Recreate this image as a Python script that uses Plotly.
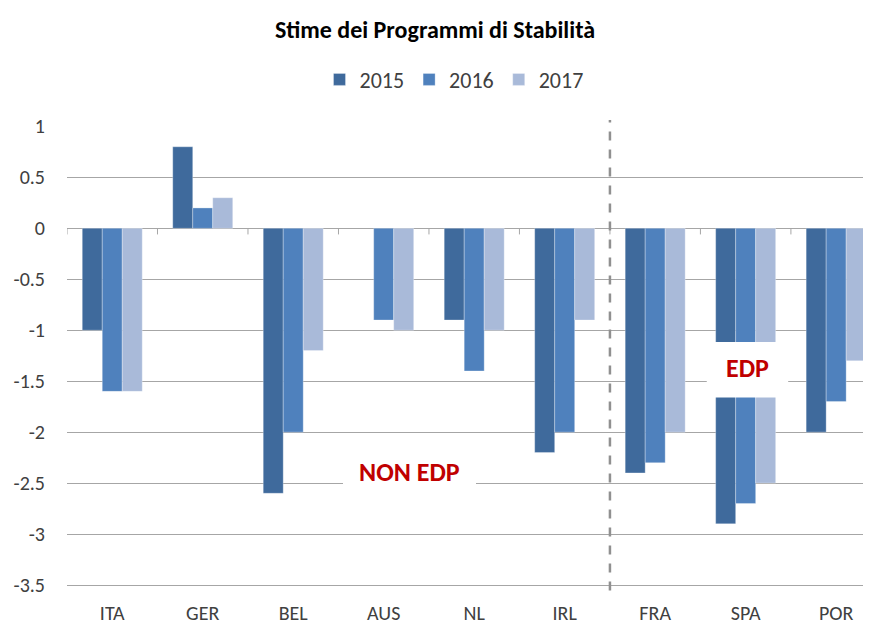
import plotly.graph_objects as go

categories = ["ITA", "GER", "BEL", "AUS", "NL", "IRL", "FRA", "SPA", "POR"]
v2015 = [-1.0, 0.8, -2.6, None, -0.9, -2.2, -2.4, -2.9, -2.0]
v2016 = [-1.6, 0.2, -2.0, -0.9, -1.4, -2.0, -2.3, -2.7, -1.7]
v2017 = [-1.6, 0.3, -1.2, -1.0, -1.0, -0.9, -2.0, -2.5, -1.3]
series_names = ["2015", "2016", "2017"]
colors = ["#3F6A9C", "#4F81BD", "#A9BAD9"]
title_text = "Stime dei Programmi di Stabilità"
y_ticks = [1, 0.5, 0, -0.5, -1, -1.5, -2, -2.5, -3, -3.5]

FONT = "Calibri, Carlito, Lato, sans-serif"
TXT = "#404040"

# page body has an 8px margin: size the figure so it fills the 871x625 window
W, H = 863, 617
PLOT_H = H - 118 - 37

fig = go.Figure()
for name, vals, col in zip(series_names, [v2015, v2016, v2017], colors):
    fig.add_trace(go.Bar(
        x=categories, y=vals, name=name,
        marker=dict(color=col, line=dict(color="rgba(255,255,255,0.5)", width=0.6)),
    ))

shapes = []
for i in range(len(categories) + 1):
    shapes.append(dict(type="line", xref="x", yref="y", x0=i - 0.5, x1=i - 0.5,
                       y0=0, y1=-0.06, line=dict(color="#A6A6A6", width=1), layer="above"))
shapes.append(dict(type="line", xref="x", yref="paper", x0=5.5, x1=5.5, y0=-0.012, y1=1.013,
                   line=dict(color="#909090", width=2.5, dash="dash"), layer="above"))
shapes.append(dict(type="rect", xref="x", yref="y", x0=6.57, x1=7.47, y0=-1.66, y1=-1.115,
                   fillcolor="white", line=dict(width=0), layer="above"))
shapes.append(dict(type="rect", xref="x", yref="y", x0=2.55, x1=4.02, y0=-2.58, y1=-2.21,
                   fillcolor="white", line=dict(width=0), layer="above"))

annotations = [
    dict(x=7.02, y=-1.37, xref="x", yref="y", text="<b>EDP</b>", showarrow=False,
         font=dict(family=FONT, size=26, color="#C00000")),
    dict(x=3.28, y=-2.39, xref="x", yref="y", text="<b>NON EDP</b>", showarrow=False,
         font=dict(family=FONT, size=26, color="#C00000")),
]

fig.update_layout(
    width=W, height=H,
    paper_bgcolor="white", plot_bgcolor="white",
    margin=dict(l=59, r=0, t=118, b=37),
    font=dict(family=FONT, color=TXT, size=20),
    title=dict(text="<b>" + title_text + "</b>", x=(435 - 8) / W, xref="container", xanchor="center",
               y=1 - 22 / H, yref="container", yanchor="middle",
               font=dict(family=FONT, size=24, color="#000000")),
    barmode="group", bargap=0.337, bargroupgap=0,
    legend=dict(orientation="h", x=(454 - 67) / 804, xanchor="center",
                y=1 + (125.7 - 79) / PLOT_H, yanchor="middle",
                font=dict(family=FONT, size=22, color=TXT), itemwidth=30, traceorder="normal"),
    shapes=shapes, annotations=annotations,
    showlegend=True,
)
fig.update_xaxes(range=[-0.5, 8.385], showgrid=False, zeroline=False, showline=True,
                 linecolor="#A6A6A6", linewidth=1, ticks="", ticklabelstandoff=10,
                 tickfont=dict(family=FONT, size=20, color=TXT))
fig.update_yaxes(range=[-3.5, 1.004], tickvals=y_ticks, ticktext=[str(t) for t in y_ticks],
                 showgrid=True, gridcolor="#A6A6A6", gridwidth=1,
                 zeroline=True, zerolinecolor="#A6A6A6", zerolinewidth=1,
                 showline=False, ticks="", ticklabelstandoff=21,
                 tickfont=dict(family=FONT, size=20, color=TXT))

fig.write_html("out.html")
